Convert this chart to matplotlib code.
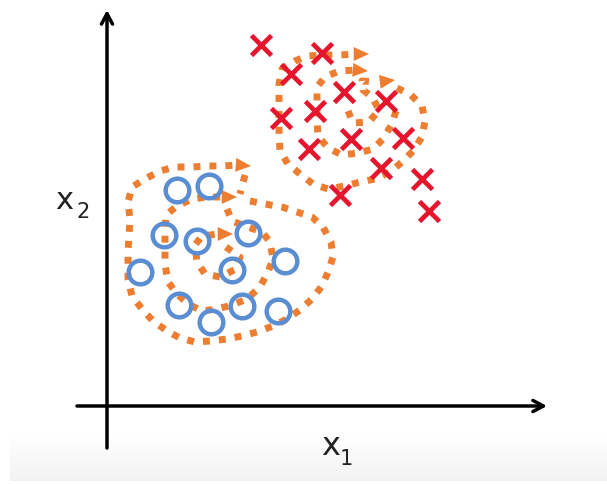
import matplotlib.pyplot as plt
import numpy as np

# cluster members, in picture coordinates (x right, y down)
circ_x = [177, 209, 164, 197, 248, 140, 232, 285, 179, 211, 242, 278]
circ_y = [191, 187, 236, 242, 234, 273, 271, 262, 306, 323, 307, 312]

cross_x = [261, 322, 291, 344, 281, 315, 386, 309, 351, 403, 381, 340, 422, 429]
cross_y = [46, 54, 75, 93, 119, 112, 102, 150, 140, 139, 169, 196, 180, 212]

# hand drawn dotted spirals (left group)
left_inner = [(226, 248), (240, 258), (236, 270), (220, 278), (205, 275), (197, 263),
              (195, 246), (202, 237), (218, 235)]
left_mid = [(227, 210), (232, 222), (245, 227), (262, 233), (270, 243), (273, 260),
            (268, 273), (260, 288), (247, 300), (232, 306), (217, 310), (202, 312),
            (188, 305), (177, 295), (168, 283), (165, 265), (165, 250), (165, 233),
            (166, 216), (177, 207), (192, 200), (208, 198), (224, 198)]
left_outer = [(250, 202), (265, 205), (282, 208), (297, 213), (312, 218), (323, 228),
              (331, 243), (333, 258), (328, 273), (322, 287), (312, 300), (300, 311),
              (287, 320), (273, 327), (257, 333), (242, 337), (227, 340), (210, 342),
              (195, 343), (180, 339), (167, 332), (153, 322), (142, 310), (132, 297),
              (128, 280), (128, 267), (128, 252), (129, 237), (130, 220), (128, 203),
              (132, 188), (145, 180), (160, 172), (175, 168), (192, 168), (207, 167),
              (223, 167), (238, 166)]
left_tail = [(245, 176), (240, 195)]

# right group
right_inner = [(348, 112), (353, 124), (369, 123), (379, 111), (372, 98), (363, 91),
               (362, 82), (378, 83)]
right_mid = [(396, 112), (392, 125), (383, 140), (373, 150), (358, 154), (342, 156),
             (328, 149), (318, 137), (317, 122), (317, 105), (317, 88), (325, 78),
             (339, 72), (355, 71)]
right_outer = [(397, 89), (411, 96), (422, 107), (425, 122), (422, 138), (413, 152),
               (402, 163), (390, 173), (375, 180), (360, 183), (345, 187), (328, 190),
               (313, 185), (300, 175), (288, 165), (280, 152), (279, 135), (279, 120),
               (279, 102), (279, 85), (282, 70), (295, 62), (307, 57), (324, 56),
               (340, 56), (355, 55)]

# arrow tips at the end of each stroke
tips = {0: (233, 235), 1: (237, 198), 2: (251, 167), 3: (395, 81), 4: (368, 72), 5: (369, 55)}

orange = '#ed7d31'
dots = (0, (1.0, 1.3))
fig = plt.figure(figsize=(6.07, 4.85), dpi=100)
ax = fig.add_axes([0, 0, 1, 1])
ax.set_xlim(0, 607)
ax.set_ylim(485, 0)
ax.axis('off')

# grey strip at the bottom of the slide
grad = np.linspace(0, 1, 40).reshape(-1, 1)
ax.imshow(grad, cmap='Greys', vmin=-0.05, vmax=10, extent=[10, 607, 482, 438],
          aspect='auto', zorder=0)

# axes with arrows
ax.annotate('', xy=(107, 11), xytext=(107, 449),
            arrowprops=dict(arrowstyle='->,head_length=0.75,head_width=0.4',
                            lw=2.5, color='black', shrinkA=0, shrinkB=0))
ax.annotate('', xy=(547, 407), xytext=(77, 407),
            arrowprops=dict(arrowstyle='->,head_length=0.75,head_width=0.4',
                            lw=2.5, color='black', shrinkA=0, shrinkB=0))
ax.text(55, 209, 'x', fontsize=22, ha='left', va='baseline', color='#222222')
ax.text(77, 218, '2', fontsize=15, ha='left', va='baseline', color='#222222')
ax.text(321, 455, 'x', fontsize=23, ha='left', va='baseline', color='#222222')
ax.text(340, 465, '1', fontsize=15, ha='left', va='baseline', color='#222222')

strokes = [left_inner, left_mid, left_outer, right_inner, right_mid, right_outer]
for i, s in enumerate(strokes):
    xs = [p[0] for p in s]
    ys = [p[1] for p in s]
    ax.plot(xs, ys, color=orange, lw=5.0, linestyle=dots,
            dash_capstyle='butt', solid_joinstyle='round', zorder=2)
    ax.annotate('', xy=tips[i], xytext=s[-1],
                arrowprops=dict(arrowstyle='-|>,head_length=1.1,head_width=0.5',
                                color=orange, lw=0, shrinkA=0, shrinkB=0), zorder=2)
ax.plot([p[0] for p in left_tail], [p[1] for p in left_tail], color=orange, lw=5.0,
        linestyle=dots, dash_capstyle='butt', zorder=2)

ax.plot(circ_x, circ_y, 'o', ms=17, mfc='none', mec='#5b8dd2', mew=3.2, zorder=3)
ax.plot(cross_x, cross_y, 'x', ms=14, mec='#e5152d', mew=3.4, zorder=3)

plt.savefig('out.png', dpi=100)
